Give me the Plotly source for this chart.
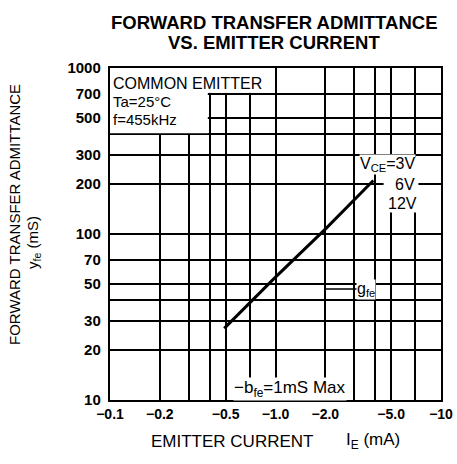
import plotly.graph_objects as go

# ---- data ----
emitter_current_ma = [0.49, 1.0, 2.0, 3.9]       # |IE| (mA), labelled as negative currents
yfe_ms = [27.0, 55.0, 107.0, 210.0]              # |yfe| (mS)

x_tickvals = [0.1, 0.2, 0.5, 1, 2, 5, 10]
x_ticktext = ["−0.1", "−0.2", "−0.5", "−1.0", "−2.0", "−5.0", "−10"]
x_minor_grid = [0.3, 0.4, 0.7, 3, 4, 7]
y_tickvals = [10, 20, 30, 50, 70, 100, 200, 300, 500, 700, 1000]
y_ticktext = ["10", "20", "30", "50", "70", "100", "200", "300", "500", "700", "1000"]
y_minor_grid = [40, 400]

FONT = "Liberation Sans"
L, R, T, B = 110, 441, 68, 400          # plot area in pixels
DECX = (R - L) / 2                       # pixels per decade
DECY = (B - T) / 2

fig = go.Figure()
fig.add_trace(go.Scatter(
    x=emitter_current_ma, y=yfe_ms, mode="lines",
    line=dict(color="black", width=3), showlegend=False, hoverinfo="skip"))

def axis(tickvals, ticktext, minor_vals, rng, size, standoff):
    return dict(
        type="log", range=rng, automargin=False,
        tickmode="array", tickvals=tickvals, ticktext=ticktext,
        showgrid=True, gridcolor="black", gridwidth=1.8,
        minor=dict(tickmode="array", tickvals=minor_vals, showgrid=True,
                   gridcolor="black", gridwidth=1.8, ticks=""),
        showline=True, mirror=True, linecolor="black", linewidth=2.4,
        ticks="", zeroline=False, ticklabelstandoff=standoff,
        tickfont=dict(family=FONT, size=size, color="black", weight="bold"),
    )

fig.update_layout(
    width=457, height=464,
    margin=dict(l=L, r=457 - R, t=T, b=464 - B, autoexpand=False),
    paper_bgcolor="white", plot_bgcolor="white",
    xaxis=axis(x_tickvals, x_ticktext, x_minor_grid, [-1, 1], 14, 0),
    yaxis=axis(y_tickvals, y_ticktext, y_minor_grid, [1, 3], 15, 4),
)

# white masks hiding the grid behind the text blocks
masks = [
    (0.1, 0.98, 710, 1000),
    (0.1, 0.39, 405, 1000),
    (4.5, 7.3, 147, 290),
    (0.55, 2.85, 10, 13.5),
]
for x0, x1, y0, y1 in masks:
    fig.add_shape(type="rect", xref="x", yref="y", x0=x0, x1=x1, y0=y0, y1=y1,
                  fillcolor="white", line=dict(width=0), layer="between")

def px2x(px):
    return (px - L) / DECX - 1

def py2y(py):
    return (B - py) / DECY + 1

def ann(text, px, py, size=16, xanchor="center"):
    fig.add_annotation(text=text, x=px2x(px), y=py2y(py),
                       xref="x", yref="y", xanchor=xanchor, yanchor="middle",
                       showarrow=False, bgcolor="white", borderpad=0,
                       font=dict(family=FONT, size=size, color="black"))

ann("COMMON EMITTER", 112, 83, 16, "left")
ann("Ta=25°C", 112, 101, 15, "left")
ann("f=455kHz", 112, 119, 15, "left")
ann("V<sub>CE</sub>=3V", 387, 164, 16)
ann("6V", 405, 184, 16)
ann("12V", 402, 203, 16)
ann("−b<sub>fe</sub>=1mS Max", 290, 389, 17)

fig.add_annotation(text="g<sub>fe</sub>", x=px2x(325), y=py2y(289),
                   xref="x", yref="y", showarrow=True, arrowhead=0, arrowwidth=1.6,
                   arrowcolor="black", ax=41, ay=0, bgcolor="white", borderpad=0,
                   font=dict(family=FONT, size=16, color="black"))

# titles
def paper_ann(text, px, py, size, angle=0, weight="normal"):
    fig.add_annotation(text=text, xref="paper", yref="paper",
                       x=(px - L) / (R - L), y=(B - py) / (B - T), textangle=angle,
                       showarrow=False, xanchor="center", yanchor="middle",
                       font=dict(family=FONT, size=size, color="black", weight=weight))

paper_ann("FORWARD TRANSFER ADMITTANCE", 274, 22, 18.5, weight="bold")
paper_ann("VS. EMITTER CURRENT", 274, 43, 18.5, weight="bold")
paper_ann("FORWARD TRANSFER ADMITTANCE", 15, 215, 15, -90)
paper_ann("y<sub>fe</sub> (mS)", 33, 243, 15, -90)
paper_ann("EMITTER CURRENT", 232, 441, 17)
paper_ann("I<sub>E</sub> (mA)", 373, 441, 17)

fig.write_html("out.html", config={"displayModeBar": False},
               post_script="document.body.style.margin='0px';")
